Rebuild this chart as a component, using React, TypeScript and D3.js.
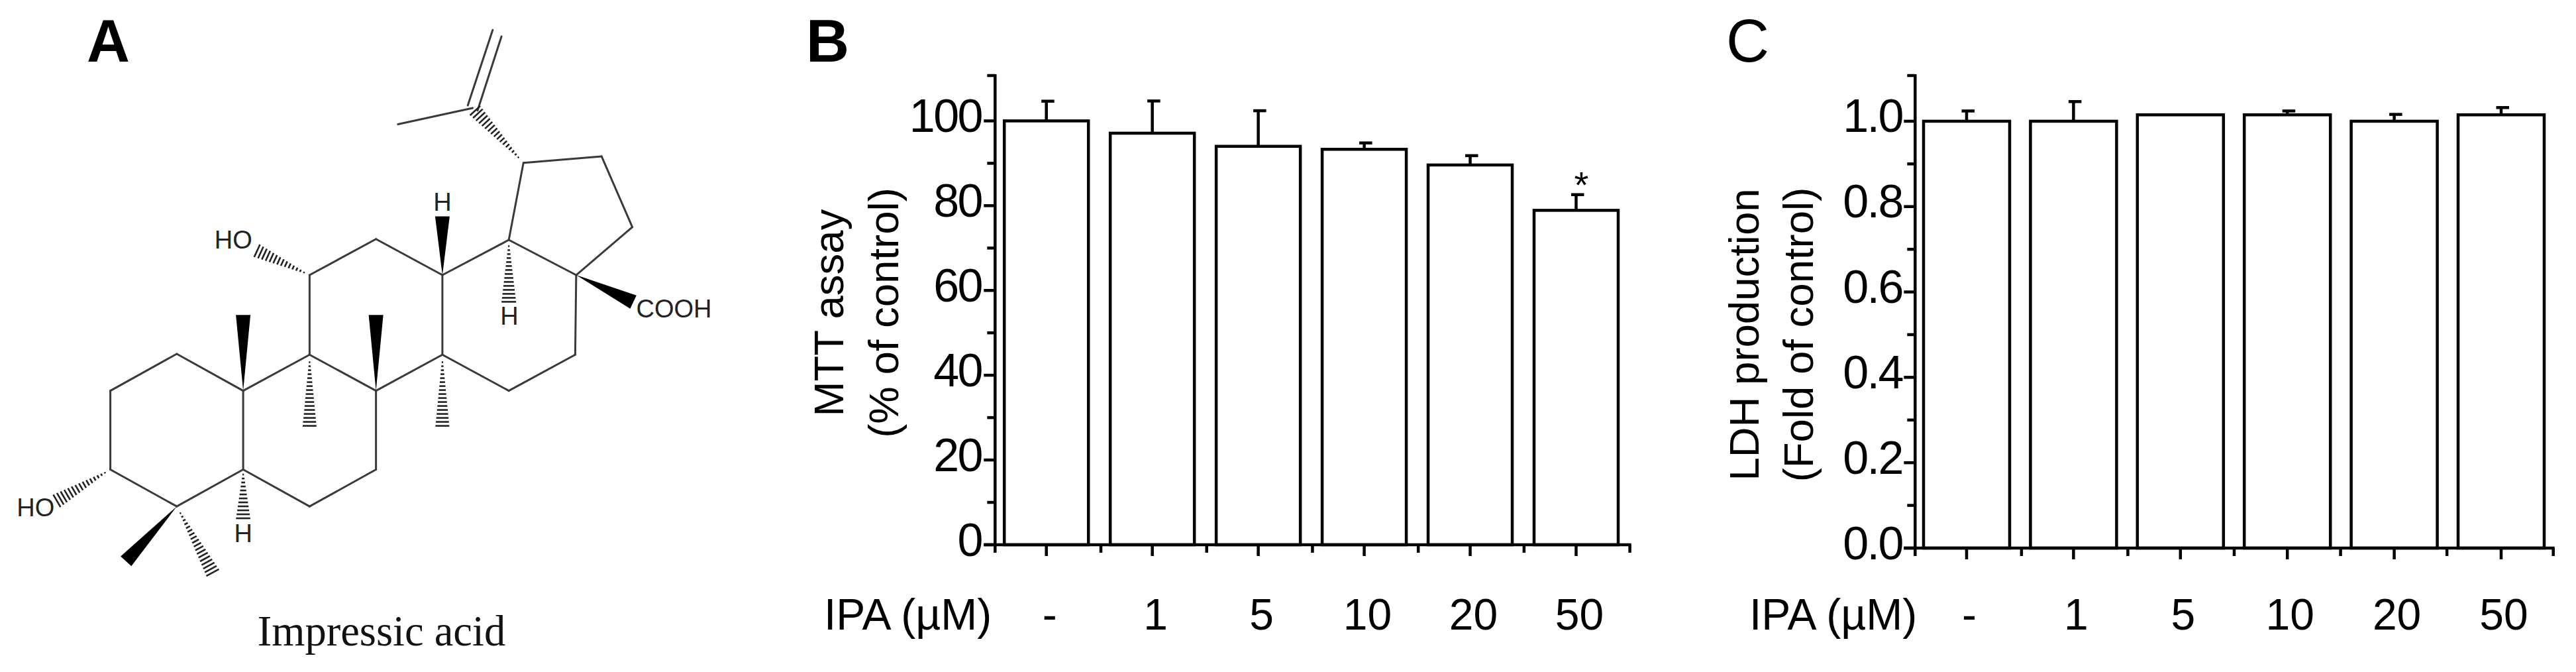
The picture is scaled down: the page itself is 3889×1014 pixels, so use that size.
import React from "react";
import * as d3 from "d3";

// ---------- data ----------
const doseLabels = ["-", "1", "5", "10", "20", "50"];
const mttValues = [100, 97.1, 94.0, 93.3, 89.6, 78.9];
const mttErrors = [4.65, 7.6, 8.4, 1.5, 2.2, 3.7];
const mttTicks = [0, 20, 40, 60, 80, 100];
const mttMinorTicks = [10, 30, 50, 70, 90, 110.7];
const ldhValues = [1.0, 1.0, 1.015, 1.015, 1.0, 1.015];
const ldhErrors = [0.024, 0.046, 0, 0.009, 0.016, 0.017];
const ldhTicks = [0, 0.2, 0.4, 0.6, 0.8, 1.0];
const ldhMinorTicks = [0.1, 0.3, 0.5, 0.7, 0.9, 1.107];

// ---------- molecule, in its own drawing units ----------
const atoms: Record<string, [number, number]> = {
  a1: [226, 912], a2: [362, 826], a3: [498, 912], a4: [498, 1096], a5: [362, 1182], a6: [226, 1096],
  b1: [634, 828], b2: [770, 912], b3: [770, 1096], b4: [634, 1182],
  c1: [634, 642], c2: [770, 558], c3: [906, 642], c4: [906, 828],
  d1: [1042, 560], d2: [1180, 642], d3: [1178, 828], d4: [1042, 912],
  e1: [1072, 380], e2: [1232, 365], e3: [1295, 530],
  iso: [968, 252], me: [815, 290], ch2a: [1009, 70], ch2b: [1027, 85], isoA: [958, 246], isoB: [978, 258],
  wA3: [498, 735], wB2: [770, 735], wC3: [906, 505], wD2: [1297, 705], wA5: [258, 1310],
  hB1: [634, 1003], hC4: [906, 1003], hD1: [1042, 705], hA4: [498, 1212], hA5: [437, 1340],
  hC1: [520, 582], hA6: [115, 1170],
};
const bonds = [
  ["a1", "a2"], ["a2", "a3"], ["a3", "a4"], ["a4", "a5"], ["a5", "a6"], ["a6", "a1"],
  ["a3", "b1"], ["b1", "b2"], ["b2", "b3"], ["b3", "b4"], ["b4", "a4"],
  ["b1", "c1"], ["c1", "c2"], ["c2", "c3"], ["c3", "c4"], ["c4", "b2"],
  ["c3", "d1"], ["d1", "d2"], ["d2", "d3"], ["d3", "d4"], ["d4", "c4"],
  ["d1", "e1"], ["e1", "e2"], ["e2", "e3"], ["e3", "d2"],
  ["iso", "me"], ["isoA", "ch2a"], ["isoB", "ch2b"],
];
const wedges = [["a3", "wA3"], ["b2", "wB2"], ["c3", "wC3"], ["d2", "wD2"], ["a5", "wA5"]];
const hashes = [
  ["e1", "iso"], ["b1", "hB1"], ["c4", "hC4"], ["d1", "hD1"], ["a4", "hA4"], ["a5", "hA5"], ["c1", "hC1"], ["a6", "hA6"],
];
const atomLabels: [string, number, number, string][] = [
  ["HO", 478, 580, "middle"], ["HO", 73, 1205, "middle"], ["H", 906, 492, "middle"],
  ["H", 1043, 758, "middle"], ["H", 498, 1266, "middle"], ["COOH", 1303, 741, "start"],
];

const mx = d3.scaleLinear().domain([0, 1560]).range([0, 1150]);
const my = d3.scaleLinear().domain([0, 1560]).range([0, 1008.5]);
const SANS = "'Liberation Sans', Arial, sans-serif";

function Molecule() {
  const P = (k: string) => [mx(atoms[k][0]), my(atoms[k][1])] as [number, number];
  return (
    <g>
      {bonds.map(([a, b], i) => {
        const [x1, y1] = P(a), [x2, y2] = P(b);
        return <line key={i} x1={x1} y1={y1} x2={x2} y2={y2} stroke="#3a3a3a" strokeWidth={3} strokeLinecap="round" />;
      })}
      {wedges.map(([a, b], i) => {
        const [x1, y1] = P(a), [x2, y2] = P(b);
        const L = Math.hypot(x2 - x1, y2 - y1), nx = -(y2 - y1) / L, ny = (x2 - x1) / L, w = 11;
        return <polygon key={i} fill="#000" points={`${x1},${y1} ${x2 + nx * w},${y2 + ny * w} ${x2 - nx * w},${y2 - ny * w}`} />;
      })}
      {hashes.map(([a, b], i) => {
        const [x1, y1] = P(a), [x2, y2] = P(b);
        const L = Math.hypot(x2 - x1, y2 - y1), nx = -(y2 - y1) / L, ny = (x2 - x1) / L;
        return (
          <g key={i}>
            {d3.range(0.1, 1.001, 6 / L).map((t, j) => {
              const cx = x1 + (x2 - x1) * t, cy = y1 + (y2 - y1) * t, w = 11 * t;
              return <line key={j} x1={cx + nx * w} y1={cy + ny * w} x2={cx - nx * w} y2={cy - ny * w} stroke="#222" strokeWidth={2.6} />;
            })}
          </g>
        );
      })}
      {atomLabels.map(([t, x, y, anchor], i) => (
        <text key={i} x={mx(x)} y={my(y)} textAnchor={anchor as any} fontFamily={SANS} fontSize={38} fill="#222">{t}</text>
      ))}
      <text x={576} y={974} textAnchor="middle" fontFamily="'Liberation Serif', serif" fontSize={64.5} fill="#111">Impressic acid</text>
    </g>
  );
}

type PanelProps = {
  values: number[]; errors: number[]; ticks: number[]; minor: number[]; top: number; fmt: (d: number) => string;
  axisX: number; axisEnd: number; firstC: number; lastC: number; y0: number; y1: number; barW: number; labelX: number; xLabelShift: number;
  ipaX: number; ylab1: string; ylab2: string; ylab1X: number; ylab2X: number; ylabY: number; star?: number;
};

function Panel(p: PanelProps) {
  const n = p.values.length;
  const sep = d3.scaleLinear().domain([0, n]).range([p.axisX, p.axisEnd]);
  const c = d3.scaleLinear().domain([0, n - 1]).range([p.firstC, p.lastC]);
  const y = d3.scaleLinear().domain([0, p.top]).range([p.y0, p.y1]);
  const sw = 4.5;
  return (
    <g>
      {p.values.map((v, i) => (
        <g key={i}>
          {p.errors[i] > 0 && (
            <g stroke="#000" strokeWidth={sw}>
              <line x1={c(i)} x2={c(i)} y1={y(v)} y2={y(v + p.errors[i])} />
              <line x1={c(i) - 7.5} x2={c(i) + 12} y1={y(v + p.errors[i])} y2={y(v + p.errors[i])} />
            </g>
          )}
          <rect x={c(i) - p.barW / 2} y={y(v)} width={p.barW} height={p.y0 - y(v)} fill="#fff" stroke="#000" strokeWidth={sw} />
        </g>
      ))}
      <g stroke="#000" strokeWidth={sw}>
        <line x1={p.axisX} x2={p.axisX} y1={y(p.top) - 2} y2={p.y0 + 12} />
        <line x1={p.axisX - 17} x2={p.axisEnd + 2} y1={p.y0} y2={p.y0} />
        {p.ticks.map((t) => <line key={t} x1={p.axisX - 17} x2={p.axisX} y1={y(t)} y2={y(t)} />)}
        {p.minor.map((t) => <line key={t} x1={p.axisX - 12} x2={p.axisX} y1={y(t)} y2={y(t)} />)}
        {d3.range(1, n + 1).map((i) => <line key={i} x1={sep(i)} x2={sep(i)} y1={p.y0} y2={p.y0 + 12} />)}
        {p.values.map((_, i) => <line key={i} x1={c(i)} x2={c(i)} y1={p.y0} y2={p.y0 + 17} />)}
      </g>
      <g fontFamily={SANS} fill="#000">
        {p.ticks.map((t) => (
          <text key={t} x={p.labelX} y={y(t) + 16.5} textAnchor="end" fontSize={70} letterSpacing={-2.5}>{p.fmt(t)}</text>
        ))}
        {doseLabels.map((d, i) => (
          <text key={i} x={c(i) + p.xLabelShift} y={950} textAnchor="middle" fontSize={66}>{d}</text>
        ))}
        <text x={p.ipaX} y={950} textAnchor="start" fontSize={66}>{"IPA (µM)"}</text>
        <text transform={`translate(${p.ylab1X},${p.ylabY}) rotate(-90)`} textAnchor="middle" fontSize={63.5}>{p.ylab1}</text>
        <text transform={`translate(${p.ylab2X},${p.ylabY}) rotate(-90)`} textAnchor="middle" fontSize={63.5}>{p.ylab2}</text>
        {p.star !== undefined && (
          <text x={c(p.star) + 8} y={298} textAnchor="middle" fontSize={56}>*</text>
        )}
      </g>
    </g>
  );
}

const panelLetters: [string, number, number][] = [["A", 131, 700], ["B", 1217, 700], ["C", 2606, 400]];

export default function App() {
  return (
    <svg width={3889} height={1014} viewBox="0 0 3889 1014"
      style={{ position: "fixed", left: 0, top: 0, background: "#fff", display: "block" }}>
      <rect width={3889} height={1014} fill="#fff" />
      {panelLetters.map(([t, x, w]) => (
        <text key={t} x={x} y={93} fontFamily={SANS} fontWeight={w} fontSize={90} fill="#000">{t}</text>
      ))}
      <Molecule />
      <Panel values={mttValues} errors={mttErrors} ticks={mttTicks} minor={mttMinorTicks} top={110.7}
        fmt={(d) => String(d)} axisX={1502.3} axisEnd={2460.6} firstC={1579.7} lastC={2379.5} y0={822} y1={114} barW={127}
        labelX={1482} xLabelShift={5} ipaX={1244} ylab1="MTT assay" ylab2="(% of control)"
        ylab1X={1273} ylab2X={1356} ylabY={472} star={5} />
      <Panel values={ldhValues} errors={ldhErrors} ticks={ldhTicks} minor={ldhMinorTicks} top={1.107}
        fmt={(d) => d.toFixed(1)} axisX={2891.3} axisEnd={3854.7} firstC={2969} lastC={3776} y0={827} y1={114} barW={130}
        labelX={2872} xLabelShift={4} ipaX={2641} ylab1="LDH production" ylab2="(Fold of control)"
        ylab1X={2655} ylab2X={2737} ylabY={505} />
    </svg>
  );
}
